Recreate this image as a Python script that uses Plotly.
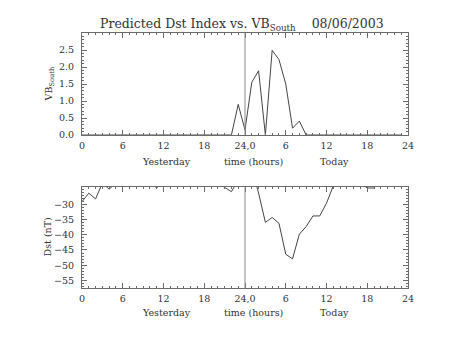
import plotly.graph_objects as go
from plotly.subplots import make_subplots

# Hours since midnight yesterday (0-24 = yesterday, 24-48 = today)
hours = list(range(0, 48))

# Southward IMF component (VB_South), hourly
vb_south = [0, 0, 0, 0, 0, 0, 0, 0, 0, 0, 0, 0,
            0, 0, 0, 0, 0, 0, 0, 0, 0, 0, 0, 0.90,
            0.15, 1.55, 1.89, 0, 2.49, 2.22, 1.50, 0.20, 0.41, 0, 0, 0,
            0, 0, 0, 0, 0, 0, 0, 0, 0, 0, 0, 0]

# Predicted Dst index (nT), hourly
dst = [-29.1, -26.3, -28.2, -23.0, -25.0, -23.0, -22.0, -22.0, -22.0, -22.0, -23.0, -24.5,
       -23.0, -22.0, -22.0, -22.0, -22.0, -22.0, -22.0, -22.0, -23.0, -24.3, -25.8, -22.0,
       -20.0, -18.0, -26.3, -35.9, -34.3, -36.2, -46.4, -47.9, -39.8, -37.3, -33.8, -33.8,
       -29.6, -23.9, -22.0, -22.0, -22.0, -23.0, -24.6, -24.6, -22.0, -22.0, -22.0, -22.0]

tick_vals = [0, 6, 12, 18, 24, 30, 36, 42, 48]
tick_text = ["0", "6", "12", "18", "24,0", "6", "12", "18", "24"]
vb_ticks = [0.0, 0.5, 1.0, 1.5, 2.0, 2.5]
dst_ticks = [-55, -50, -45, -40, -35, -30]

FONT = "DejaVu Serif"
LINE = "#444444"
AXIS = "#6a6a6a"
TEXT = "#333333"

fig = make_subplots(rows=2, cols=1, vertical_spacing=0.0)

fig.add_trace(go.Scatter(x=hours, y=vb_south, mode="lines",
                         line=dict(color=LINE, width=1)), row=1, col=1)
fig.add_trace(go.Scatter(x=hours, y=dst, mode="lines",
                         line=dict(color=LINE, width=1)), row=2, col=1)

xcommon = dict(range=[0, 48], tickmode="array", tickvals=tick_vals, ticktext=tick_text,
               ticks="inside", ticklen=5, tickcolor=AXIS, tickwidth=1,
               minor=dict(dtick=1, ticks="inside", ticklen=2, tickcolor=AXIS),
               showline=True, linecolor=AXIS, linewidth=1, mirror="allticks",
               showgrid=False, zeroline=False, ticklabelstandoff=2,
               tickfont=dict(family=FONT, size=9.5, color=TEXT))
ycommon = dict(ticks="inside", ticklen=5, tickcolor=AXIS, tickwidth=1,
               showline=True, linecolor=AXIS, linewidth=1, mirror="allticks",
               showgrid=False, zeroline=False, ticklabelstandoff=5,
               tickfont=dict(family=FONT, size=9.5, color=TEXT))

fig.update_xaxes(**xcommon, domain=[0, 1])
fig.update_yaxes(**ycommon)
fig.update_yaxes(range=[0, 3.0], tickvals=vb_ticks, ticktext=[f"{v:.1f}" for v in vb_ticks],
                 minor=dict(dtick=0.1, ticks="inside", ticklen=2, tickcolor=AXIS),
                 domain=[0.6, 1.0], row=1, col=1)
fig.update_yaxes(range=[-57.5, -24.2], tickvals=dst_ticks,
                 ticktext=["\u221255", "\u221250", "\u221245", "\u221240", "\u221235", "\u221230"],
                 minor=dict(dtick=1, ticks="inside", ticklen=2, tickcolor=AXIS),
                 domain=[0.0, 0.397], row=2, col=1)

# Boundary between yesterday and today
for r in (1, 2):
    fig.add_vline(x=24, line=dict(color="#8a8a8a", width=1), row=r, col=1)

tfont = dict(family=FONT, size=9.5, color=TEXT)
ann = []
ann.append(dict(text="Predicted Dst Index vs. VB<sub>South</sub>\u00a0\u00a0\u00a0\u00a008/06/2003",
                x=0.49, y=1.0, xref="paper", yref="paper", xanchor="center", yanchor="bottom",
                yshift=-2, showarrow=False, font=dict(family=FONT, size=12.5, color=TEXT)))
ann.append(dict(text="VB<sub>South</sub>", x=-0.097, y=0.8, xref="paper", yref="paper",
                xanchor="center", yanchor="middle",
                textangle=-90, showarrow=False, font=tfont))
ann.append(dict(text="Dst (nT)", x=-0.106, y=0.2, xref="paper", yref="paper",
                xanchor="center", yanchor="middle",
                textangle=-90, showarrow=False, font=tfont))
for xr, yy in (("x", 0.498), ("x2", -0.095)):
    for txt, hx in (("Yesterday", 12.4), ("time (hours)", 25.2), ("Today", 37.2)):
        ann.append(dict(text=txt, x=hx, y=yy, xref=xr, yref="paper",
                        xanchor="center", yanchor="middle", showarrow=False, font=tfont))

fig.update_layout(width=453, height=340, margin=dict(l=81.5, r=45, t=33, b=52),
                  paper_bgcolor="white", plot_bgcolor="white", showlegend=False,
                  annotations=ann)

fig.write_html("out.html")
